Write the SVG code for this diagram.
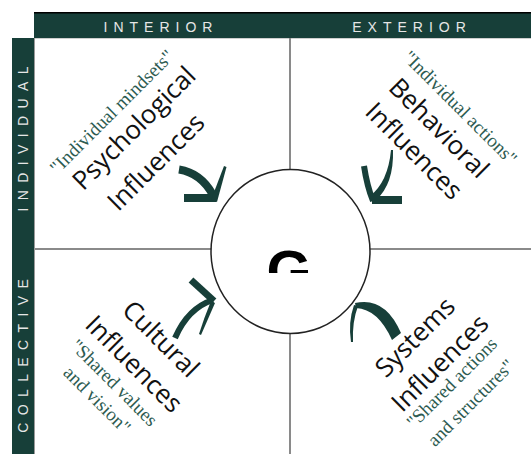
<svg xmlns="http://www.w3.org/2000/svg" width="531" height="454" viewBox="0 0 531 454">
<style>
.bar{fill:#173f39}
.hdr{font-family:"Liberation Sans",Arial,sans-serif;font-size:14px;fill:#e6e6e6;letter-spacing:6px;text-anchor:middle}
.side{font-family:"Liberation Sans",Arial,sans-serif;font-size:14px;fill:#e6e6e6;letter-spacing:7.4px;text-anchor:middle}
.main{font-family:"Open Sans",sans-serif;font-weight:400;font-size:26px;fill:#111;text-anchor:middle}
.quote{font-family:"Liberation Serif",serif;font-size:19px;fill:#2d5b51;text-anchor:middle}
.grid{stroke:#8a8a8a;stroke-width:2;fill:none}
.arw{fill:none;stroke:#173f39;stroke-linecap:butt;stroke-linejoin:miter}
.arf{fill:#173f39;stroke:none}
</style>
<defs>
<clipPath id="gclip"><rect x="250" y="240" width="80" height="33"/></clipPath>
</defs>
<g id="frame">
<rect class="bar" x="34" y="12" width="497" height="26"/>
<line x1="34" y1="12.7" x2="531" y2="12.7" stroke="#000" stroke-width="1.5"/>
<rect class="bar" x="12" y="38" width="22" height="416"/>
<line x1="34.5" y1="38" x2="34.5" y2="454" stroke="#9a9a9a" stroke-width="1"/>
<line x1="35" y1="38.5" x2="531" y2="38.5" stroke="#cfcfcf" stroke-width="1"/>
<text class="hdr" x="161" y="32">INTERIOR</text>
<text class="hdr" x="412" y="32">EXTERIOR</text>
<text class="side" transform="translate(28,139) rotate(-90)" x="3.7" y="0">INDIVIDUAL</text>
<text class="side" transform="translate(28,356) rotate(-90)" x="3.7" y="0">COLLECTIVE</text>
</g>
<g id="connectors">
<line class="grid" x1="290" y1="38" x2="290" y2="454"/>
<line class="grid" x1="35" y1="249" x2="531" y2="249"/>
<g id="arrow-tl">
<path class="arw" stroke-width="8" d="M179,169.5 Q201,173 213,195"/>
<path class="arw" stroke-width="8" d="M184,198 L216,198"/>
<path class="arf" d="M224,166 L226.5,167 L217,202 L211,200 Z"/>
</g>
<g id="arrow-tr">
<path class="arf" d="M391,150 L393,150 Q394,184 376,200 L370,196 Q388,182 391,150 Z"/>
<path class="arw" stroke-width="6" d="M364,166 Q367,186 373,201"/>
<path class="arw" stroke-width="8" d="M372,200 L402,200"/>
</g>
<g id="arrow-bl">
<path class="arw" stroke-width="7" d="M191,280 L214,301"/>
<path class="arw" stroke-width="6" d="M175,338 Q188,308 213,300"/>
<path class="arf" d="M211,301 L215,303 Q208,319 201,335 L199,334 Q204,318 211,301 Z"/>
</g>
<g id="arrow-br">
<path class="arf" d="M355,303 Q385,296 401,333 L392,340 Q378,309 356,308 Z"/>
<path class="arf" d="M354,305 L358,306 Q352,322 353,342 L351,342 Q348,322 354,305 Z"/>
</g>
</g>
<g id="center">
<ellipse cx="290.5" cy="251.5" rx="79.5" ry="82" fill="#fff" stroke="#222" stroke-width="1.5"/>
<text x="289" y="291" clip-path="url(#gclip)" font-family="Liberation Sans, Arial, sans-serif" font-weight="bold" font-size="58" fill="#000" text-anchor="middle">G</text>
</g>
<g id="psychological">
<text class="quote" transform="translate(112,112) rotate(-45)" y="6">"Individual mindsets"</text>
<text class="main" transform="translate(134,128) rotate(-45)" y="9">Psychological</text>
<text class="main" transform="translate(156,162) rotate(-45)" y="9">Influences</text>
</g>
<g id="behavioral">
<text class="quote" transform="translate(460,108) rotate(45)" y="6">"Individual actions"</text>
<text class="main" transform="translate(439,128) rotate(45)" y="9">Behavioral</text>
<text class="main" transform="translate(414,151) rotate(45)" y="9">Influences</text>
</g>
<g id="cultural">
<text class="main" transform="translate(161,339) rotate(45)" y="9">Cultural</text>
<text class="main" transform="translate(134,364) rotate(45)" y="9">Influences</text>
<text class="quote" transform="translate(114,383) rotate(45)" y="6">"Shared values</text>
<text class="quote" transform="translate(97,400) rotate(45)" y="6">and vision"</text>
</g>
<g id="systems">
<text class="main" transform="translate(415,337) rotate(-45)" y="9">Systems</text>
<text class="main" transform="translate(440,363) rotate(-45)" y="9">Influences</text>
<text class="quote" transform="translate(452,383) rotate(-45)" y="6">"Shared actions</text>
<text class="quote" transform="translate(471,403) rotate(-45)" y="6">and structures"</text>
</g>
</svg>
